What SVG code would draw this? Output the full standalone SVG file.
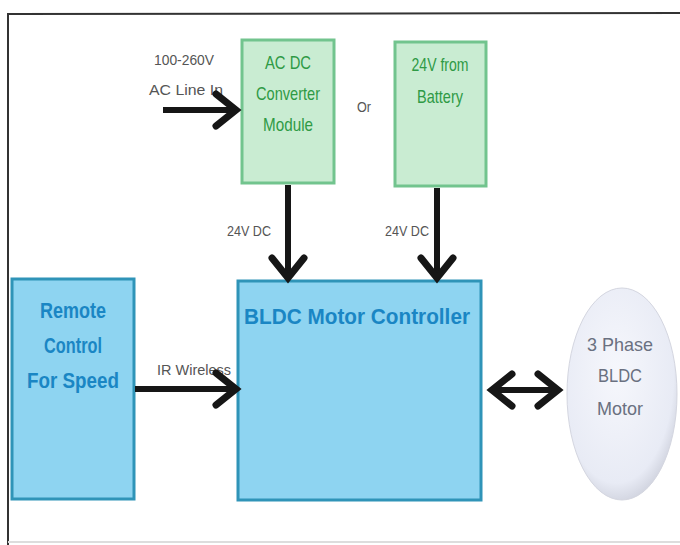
<svg xmlns="http://www.w3.org/2000/svg" width="680" height="545" viewBox="0 0 680 545">
<defs>
<style>
.g{fill:#c9ecd2;stroke:#72c48e;stroke-width:3}
.b{fill:#8ed4f1;stroke:#2f94b8;stroke-width:3}
.gt{font-family:"Liberation Sans",Arial,sans-serif;font-size:19px;fill:#2f9a45;text-anchor:middle}
.bt{font-family:"Liberation Sans",Arial,sans-serif;font-size:22px;font-weight:bold;fill:#1a86c4;text-anchor:middle}
.lt{font-family:"Liberation Sans",Arial,sans-serif;font-size:14px;fill:#555}
.mt{font-family:"Liberation Sans",Arial,sans-serif;font-size:19px;fill:#6a7080;text-anchor:middle}
.ln{stroke:#161616;stroke-width:6;fill:none}
.hd{stroke:#161616;stroke-width:7;fill:none;stroke-linecap:round;stroke-linejoin:miter}
</style>
<radialGradient id="mg" cx="0.45" cy="0.4" r="0.65">
<stop offset="0" stop-color="#f6f7fc"/><stop offset="0.8" stop-color="#e8ebf5"/><stop offset="1" stop-color="#c9ccd8"/>
</radialGradient>
</defs>
<rect x="0" y="0" width="680" height="545" fill="#fff"/>
<path d="M8,545 L8,14 L680,13" fill="none" stroke="#333" stroke-width="2"/>
<line x1="8" y1="542" x2="680" y2="542" stroke="#ddd" stroke-width="2"/>

<g id="acdc">
<rect class="g" x="242" y="40" width="92" height="143"/>
<text class="gt" x="288" y="69" textLength="46" lengthAdjust="spacingAndGlyphs">AC DC</text>
<text class="gt" x="288" y="100" textLength="64" lengthAdjust="spacingAndGlyphs">Converter</text>
<text class="gt" x="288" y="131" textLength="50" lengthAdjust="spacingAndGlyphs">Module</text>
</g>
<g id="battery">
<rect class="g" x="395" y="42" width="91" height="144"/>
<text class="gt" x="440" y="71" textLength="57" lengthAdjust="spacingAndGlyphs">24V from</text>
<text class="gt" x="440" y="103" textLength="46" lengthAdjust="spacingAndGlyphs">Battery</text>
</g>
<g id="controller">
<rect class="b" x="238" y="281" width="243" height="219"/>
<text class="bt" x="357" y="324" textLength="226" lengthAdjust="spacingAndGlyphs">BLDC Motor Controller</text>
</g>
<g id="remote">
<rect class="b" x="12" y="279" width="122" height="220"/>
<text class="bt" x="73" y="318" textLength="66" lengthAdjust="spacingAndGlyphs">Remote</text>
<text class="bt" x="73" y="353" textLength="58" lengthAdjust="spacingAndGlyphs">Control</text>
<text class="bt" x="73" y="388" textLength="92" lengthAdjust="spacingAndGlyphs">For Speed</text>
</g>
<g id="motor">
<ellipse cx="622" cy="394" rx="55" ry="106" fill="url(#mg)" stroke="#d4d6e0" stroke-width="1"/>
<text class="mt" x="620" y="351" textLength="66" lengthAdjust="spacingAndGlyphs">3 Phase</text>
<text class="mt" x="620" y="382" textLength="44" lengthAdjust="spacingAndGlyphs">BLDC</text>
<text class="mt" x="620" y="415" textLength="46" lengthAdjust="spacingAndGlyphs">Motor</text>
</g>
<g id="labels">
<text class="lt" x="154" y="65" textLength="60" lengthAdjust="spacingAndGlyphs">100-260V</text>
<text class="lt" x="149" y="95" textLength="74" lengthAdjust="spacingAndGlyphs">AC Line In</text>
<text class="lt" x="357" y="112" textLength="14" lengthAdjust="spacingAndGlyphs">Or</text>
<text class="lt" x="227" y="236" textLength="44" lengthAdjust="spacingAndGlyphs">24V DC</text>
<text class="lt" x="385" y="236" textLength="44" lengthAdjust="spacingAndGlyphs">24V DC</text>
<text class="lt" x="157" y="375" textLength="74" lengthAdjust="spacingAndGlyphs">IR Wireless</text>
</g>
<g id="connectors">
<line class="ln" x1="163" y1="110" x2="234" y2="110"/>
<path class="hd" d="M216,94 L236,110 L216,126"/>
<line class="ln" x1="288" y1="185" x2="288" y2="276"/>
<path class="hd" d="M272,258 L288,278 L304,258"/>
<line class="ln" x1="437" y1="188" x2="437" y2="276"/>
<path class="hd" d="M421,258 L437,278 L453,258"/>
<line class="ln" x1="135" y1="389" x2="234" y2="389"/>
<path class="hd" d="M216,373 L236,389 L216,405"/>
<line class="ln" x1="494" y1="390" x2="556" y2="390"/>
<path class="hd" d="M512,374 L492,390 L512,406"/>
<path class="hd" d="M538,374 L558,390 L538,406"/>
</g>
</svg>
